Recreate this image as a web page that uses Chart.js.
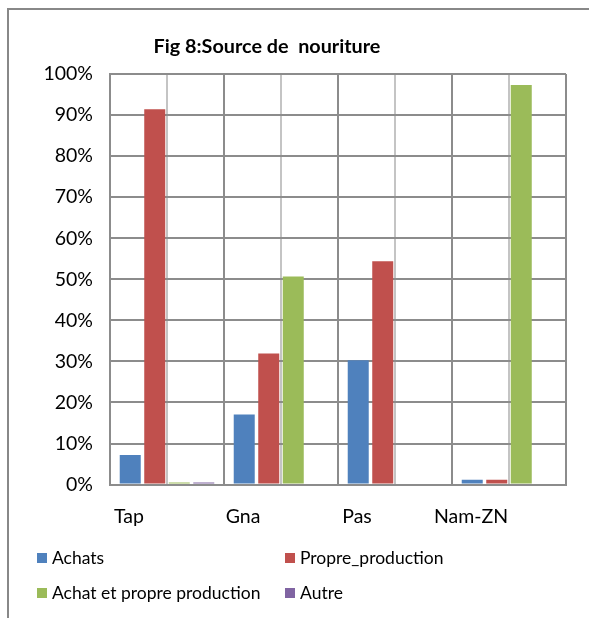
<!DOCTYPE html>
<html>
<head>
<meta charset="utf-8">
<script src="https://cdn.jsdelivr.net/npm/chart.js@4"></script>
<style>
html,body{margin:0;padding:0;background:#fff;}
#wrap{width:589px;height:618px;position:relative;}
</style>
</head>
<body>
<div id="wrap"><canvas id="c" width="589" height="618"></canvas></div>
<script>
const categories = ["Tap", "Gna", "Pas", "Nam-ZN"];
const achats = [7.2, 17.1, 30.3, 1.2];
const propreProduction = [91.4, 31.9, 54.4, 1.2];
const achatEtPropre = [0.5, 50.7, 0, 97.3];
const autre = [0.5, 0, 0, 0];
const seriesNames = ["Achats", "Propre_production", "Achat et propre production", "Autre"];
const yTicks = [0,10,20,30,40,50,60,70,80,90,100];
const titleText = "Fig 8:Source de  nouriture";
const colors = ["#4F81BD", "#C0504D", "#9BBB59", "#8064A2"];
const FONT = "Lato, 'Open Sans', sans-serif";

const framePlugin = {
  id: 'frame',
  beforeDraw(chart) {
    const ctx = chart.ctx;
    ctx.save();
    ctx.fillStyle = '#fff';
    ctx.fillRect(0, 0, chart.width, chart.height);
    ctx.strokeStyle = '#888888';
    ctx.lineWidth = 2;
    ctx.strokeRect(8, 9, 700, 700);
    ctx.restore();
  }
};

const titlePlugin = {
  id: 'customTitle',
  afterDraw(chart) {
    const ctx = chart.ctx;
    ctx.save();
    ctx.font = "bold 19.8px " + FONT;
    ctx.fillStyle = '#000';
    ctx.textAlign = 'center';
    ctx.textBaseline = 'middle';
    ctx.fillText(titleText, 267, 47);
    ctx.restore();
  }
};

const legendPlugin = {
  id: 'customLegend',
  afterDraw(chart) {
    const ctx = chart.ctx;
    const pos = [[37, 558], [285, 558], [37, 593], [285, 593]];
    ctx.save();
    ctx.font = "17.5px " + FONT;
    ctx.textBaseline = 'middle';
    chart.data.datasets.forEach((ds, i) => {
      const [x, y] = pos[i];
      ctx.fillStyle = ds.backgroundColor;
      ctx.fillRect(x, y - 5, 10, 10);
      ctx.fillStyle = '#000';
      ctx.fillText(ds.label, x + 15, y);
    });
    ctx.restore();
  }
};

const dataSeries = [achats, propreProduction, achatEtPropre, autre];

new Chart(document.getElementById('c'), {
  type: 'bar',
  data: {
    labels: categories,
    datasets: dataSeries.map((d, i) => ({
      label: seriesNames[i],
      data: d,
      backgroundColor: colors[i],
      borderWidth: 0,
      categoryPercentage: 0.86,
      barPercentage: 0.857
    }))
  },
  options: {
    responsive: false,
    animation: false,
    devicePixelRatio: 1,
    layout: { padding: { left: 10, right: 23, top: 74, bottom: 70 } },
    plugins: {
      legend: { display: false },
      tooltip: { enabled: false },
      title: { display: false }
    },
    scales: {
      x: {
        type: 'category',
        offset: true,
        grid: { offset: true, color: '#8c8c8c', lineWidth: 2, drawTicks: false },
        border: { display: true, color: '#8c8c8c', width: 2 },
        ticks: { color: '#000', font: { family: FONT, size: 19.5 }, padding: 20, labelOffset: -38 }
      },
      x2: {
        type: 'category',
        labels: categories,
        position: 'bottom',
        offset: true,
        grid: { offset: false, color: '#c4c4c4', lineWidth: 2, drawTicks: false },
        border: { display: false },
        ticks: { display: false }
      },
      y: {
        min: 0,
        max: 100,
        afterBuildTicks(scale) { scale.ticks = yTicks.map(v => ({ value: v })); },
        afterFit(scale) { scale.width = 100; },
        grid: { color: '#8c8c8c', lineWidth: 2, drawTicks: false },
        border: { display: true, color: '#8c8c8c', width: 2 },
        ticks: {
          color: '#000',
          font: { family: FONT, size: 19.5 },
          padding: 17,
          callback: v => v + '%'
        }
      }
    }
  },
  plugins: [framePlugin, titlePlugin, legendPlugin]
});
</script>
</body>
</html>
